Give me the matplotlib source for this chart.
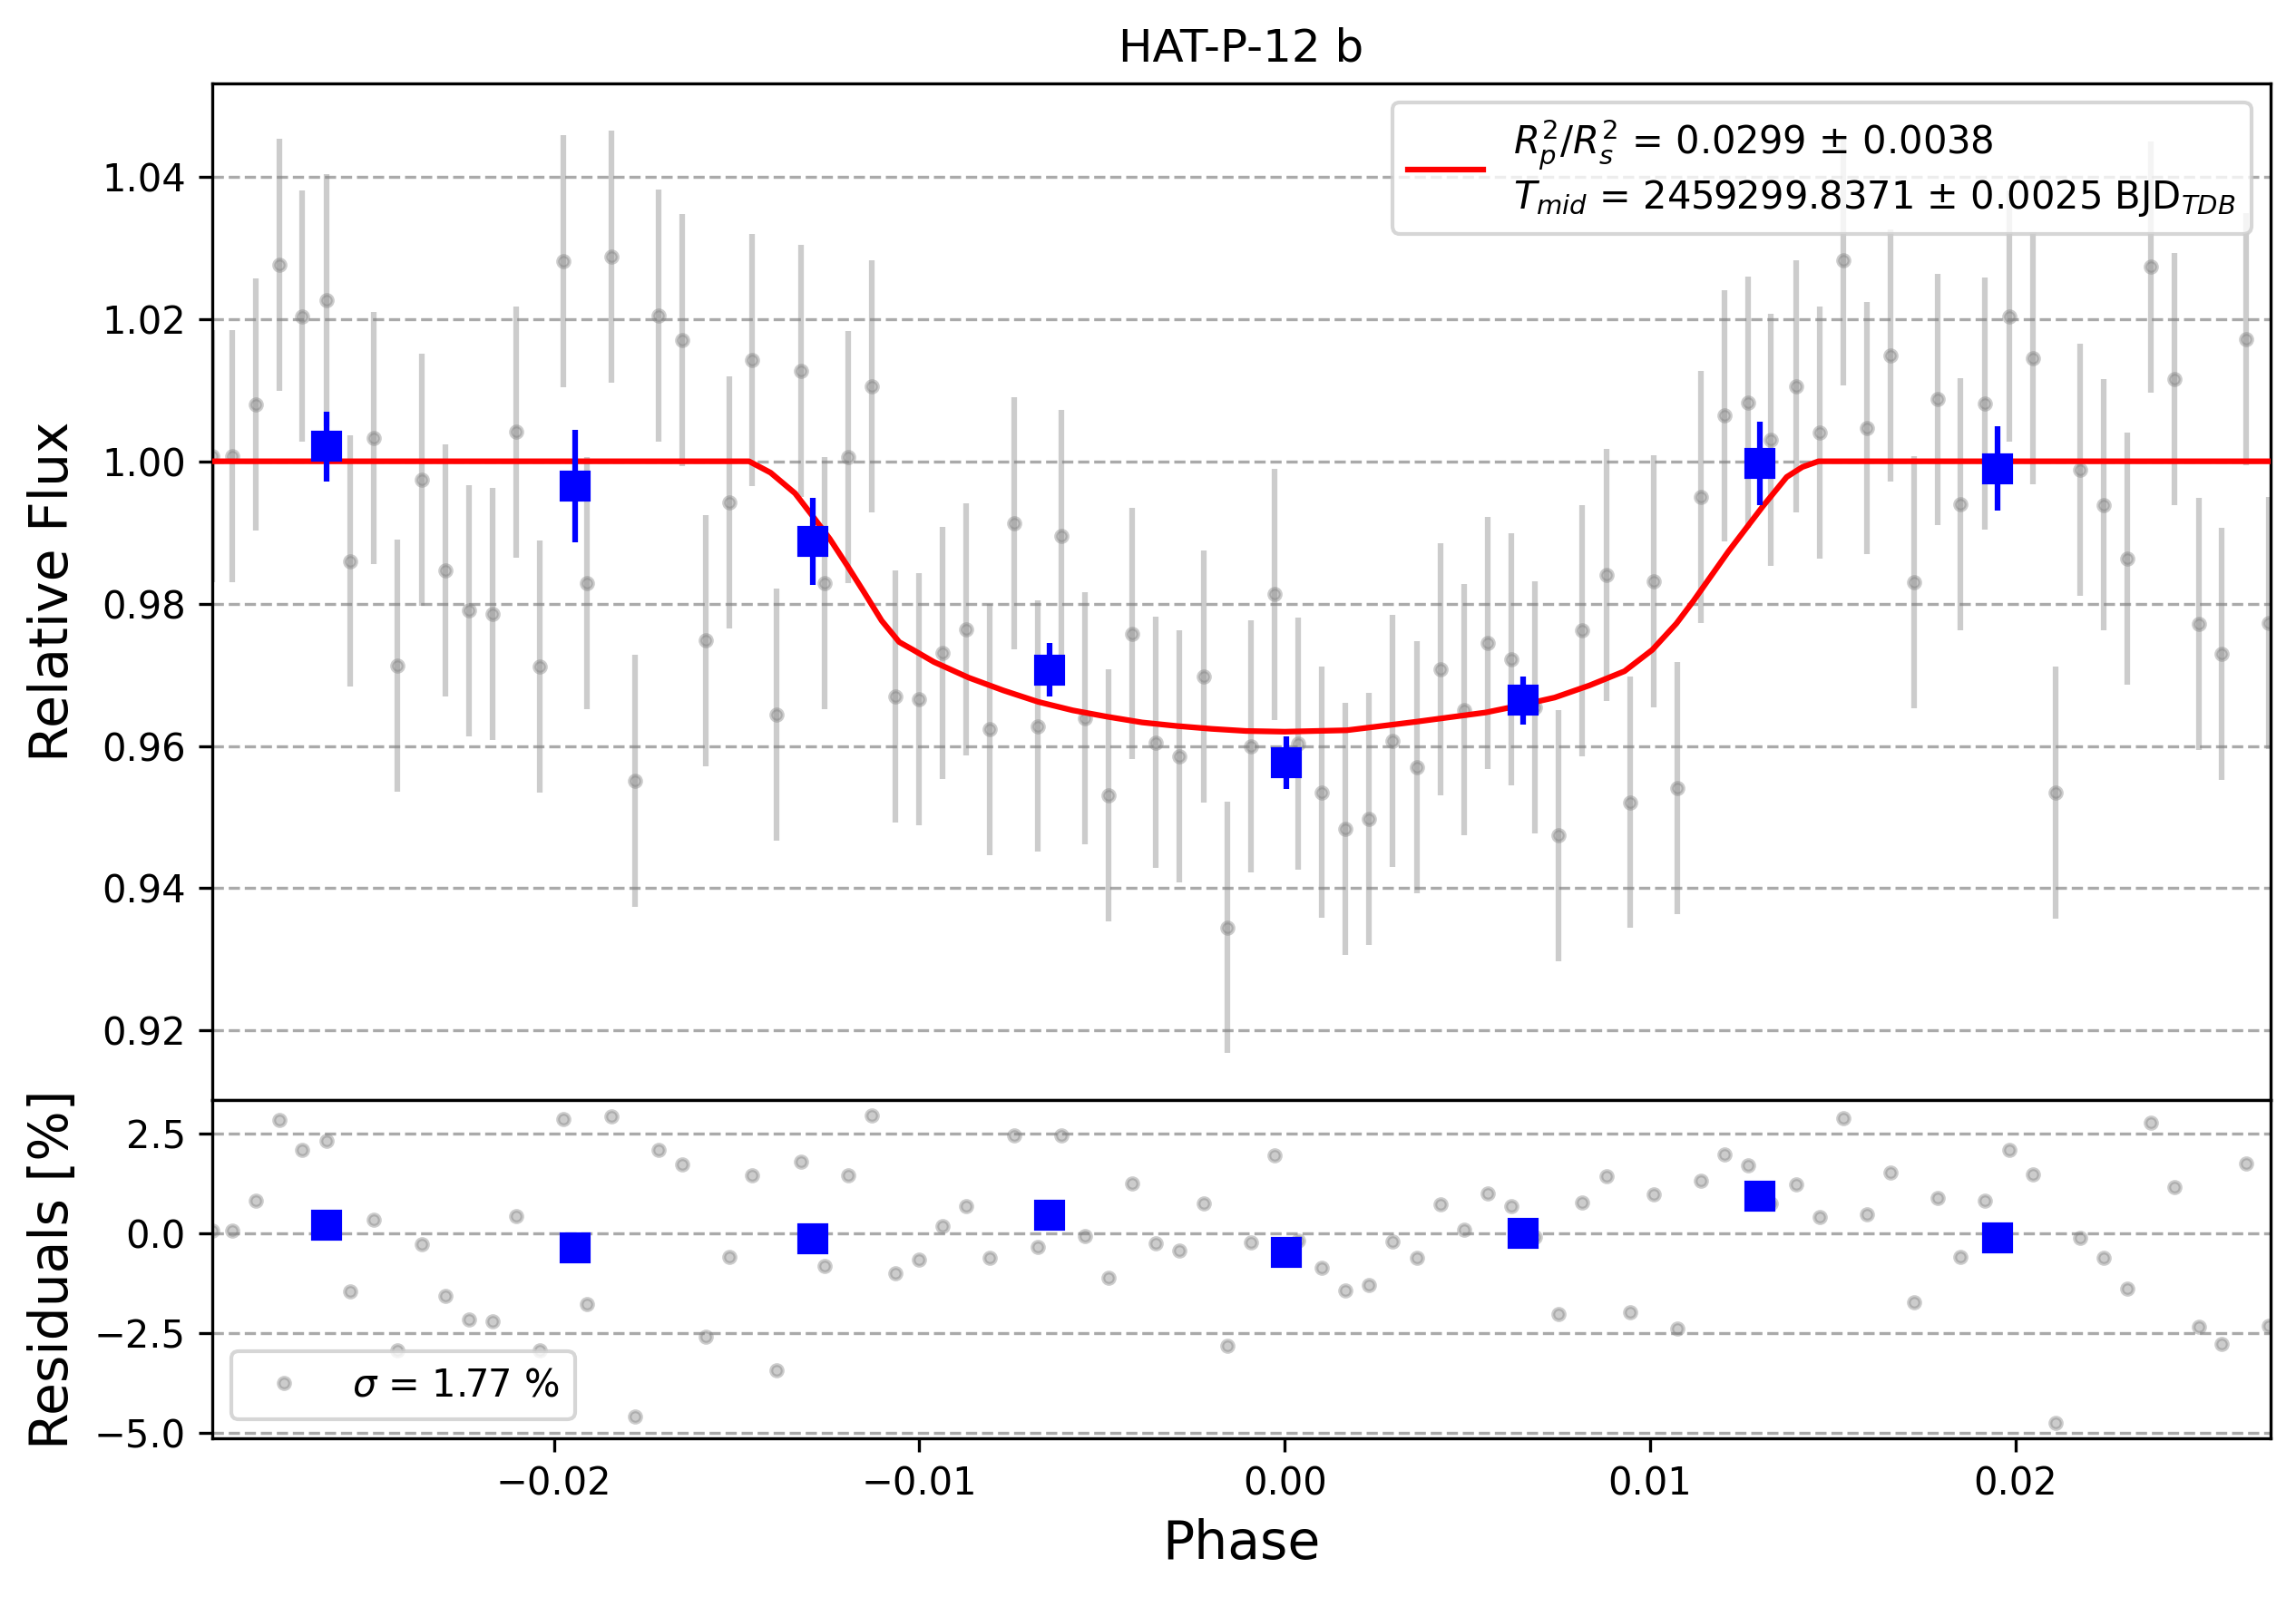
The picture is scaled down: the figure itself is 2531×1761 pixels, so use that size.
import matplotlib
matplotlib.use("Agg")
import matplotlib.pyplot as plt

# ---------------- data ----------------
phase = [-0.02935, -0.02881, -0.02816, -0.02751, -0.02688, -0.02622, -0.02557, -0.02493,
         -0.02428, -0.02362, -0.02297, -0.02233, -0.02168, -0.02103, -0.02039, -0.01974,
         -0.01910, -0.01843, -0.01778, -0.01714, -0.01649, -0.01585, -0.01520, -0.01457,
         -0.01391, -0.01324, -0.01259, -0.01195, -0.01130, -0.01066, -0.01001, -0.00937,
         -0.00872, -0.00807, -0.00741, -0.00676, -0.00612, -0.00547, -0.00483, -0.00417,
         -0.00353, -0.00289, -0.00222, -0.00158, -0.00093, -0.00028, 0.00037, 0.00101,
         0.00166, 0.00230, 0.00295, 0.00361, 0.00426, 0.00491, 0.00555, 0.00620,
         0.00684, 0.00749, 0.00814, 0.00880, 0.00945, 0.01009, 0.01074, 0.01139,
         0.01203, 0.01268, 0.01330, 0.01399, 0.01464, 0.01528, 0.01593, 0.01657,
         0.01722, 0.01787, 0.01850, 0.01915, 0.01982, 0.02047, 0.02111, 0.02176,
         0.02241, 0.02305, 0.02370, 0.02434, 0.02501, 0.02564, 0.02630, 0.02693]

flux = [1.0007, 1.0007, 1.0080, 1.0276, 1.0204, 1.0226, 0.9860, 1.0033,
        0.9713, 0.9974, 0.9847, 0.9790, 0.9785, 1.0041, 0.9712, 1.0281,
        0.9829, 1.0288, 0.9551, 1.0205, 1.0170, 0.9748, 0.9942, 1.0142,
        0.9644, 1.0127, 0.9829, 1.0006, 1.0105, 0.9669, 0.9666, 0.9731,
        0.9764, 0.9623, 0.9913, 0.9628, 0.9895, 0.9639, 0.9531, 0.9758,
        0.9605, 0.9585, 0.9698, 0.9345, 0.9599, 0.9813, 0.9603, 0.9535,
        0.9483, 0.9497, 0.9607, 0.9570, 0.9708, 0.9651, 0.9745, 0.9722,
        0.9654, 0.9474, 0.9762, 0.9840, 0.9521, 0.9831, 0.9541, 0.9950,
        1.0064, 1.0083, 1.0030, 1.0105, 1.0040, 1.0283, 1.0047, 1.0149,
        0.9830, 1.0087, 0.9940, 1.0081, 1.0204, 1.0145, 0.9534, 0.9988,
        0.9939, 0.9863, 1.0273, 1.0116, 0.9771, 0.9729, 1.0172, 0.9773]

flux_err = 0.0177

residuals = [0.08, 0.08, 0.82, 2.83, 2.09, 2.32, -1.45, 0.35,
             -2.92, -0.27, -1.56, -2.16, -2.20, 0.43, -2.92, 2.86,
             -1.77, 2.93, -4.58, 2.09, 1.73, -2.58, -0.58, 1.45,
             -3.43, 1.80, -0.82, 1.45, 2.95, -0.99, -0.65, 0.18,
             0.69, -0.61, 2.46, -0.34, 2.46, -0.07, -1.11, 1.25,
             -0.25, -0.43, 0.75, -2.82, -0.23, 1.95, -0.18, -0.86,
             -1.43, -1.30, -0.20, -0.61, 0.73, 0.09, 1.00, 0.69,
             -0.09, -2.02, 0.78, 1.43, -1.97, 0.98, -2.38, 1.32,
             1.98, 1.70, 0.75, 1.23, 0.41, 2.89, 0.48, 1.52,
             -1.73, 0.89, -0.59, 0.81, 2.09, 1.48, -4.74, -0.12,
             -0.61, -1.39, 2.77, 1.16, -2.34, -2.77, 1.76, -2.32]

bin_phase = [-0.02622, -0.01942, -0.01292, -0.00644, 0.00005, 0.00652, 0.01300, 0.01950]
bin_flux = [1.0021, 0.9965, 0.9887, 0.9707, 0.9577, 0.9664, 0.9997, 0.9990]
bin_err = [0.0049, 0.0079, 0.0061, 0.0038, 0.0037, 0.0034, 0.0059, 0.0059]
bin_resid = [0.20, -0.37, -0.14, 0.45, -0.48, 0.00, 0.93, -0.11]

model_phase = [-0.02935, -0.01466, -0.01407, -0.01340, -0.01292, -0.01245, -0.01198,
               -0.01150, -0.01103, -0.01055, -0.01017, -0.00960, -0.00865, -0.00770,
               -0.00675, -0.00580, -0.00485, -0.00390, -0.00295, -0.00200, -0.00106,
               0.00000, 0.00170, 0.00360, 0.00550, 0.00645, 0.00739, 0.00834,
               0.00930, 0.01006, 0.01072, 0.01119, 0.01214, 0.01309, 0.01374,
               0.01417, 0.01461, 0.02695]
model_flux = [1.0000, 1.0000, 0.9984, 0.9955, 0.9923, 0.9891, 0.9854,
              0.9815, 0.9776, 0.9746, 0.9735, 0.9718, 0.9696, 0.9678,
              0.9662, 0.9650, 0.9641, 0.9633, 0.9628, 0.9624, 0.9621,
              0.9620, 0.9622, 0.9634, 0.9647, 0.9657, 0.9668, 0.9685,
              0.9705, 0.9735, 0.9772, 0.9804, 0.9873, 0.9937, 0.9978,
              0.9992, 1.0000, 1.0000]

title = "HAT-P-12 b"
model_label = (r"$R^2_p/R^2_s$ = 0.0299 ± 0.0038" + "\n"
               r"$T_{mid}$ = 2459299.8371 ± 0.0025 BJD$_{TDB}$")
resid_label = r"$\sigma$ = 1.77 %"
flux_ticks = [0.92, 0.94, 0.96, 0.98, 1.00, 1.02, 1.04]
resid_ticks = [-5.0, -2.5, 0.0, 2.5]
phase_ticks = [-0.02, -0.01, 0.00, 0.01, 0.02]

# ---------------- figure ----------------
W, H, DPI = 2531, 1761, 300
fig, (ax, axr) = plt.subplots(2, 1, sharex=True, figsize=(W / DPI, H / DPI), dpi=DPI,
                              gridspec_kw=dict(height_ratios=[3, 1], hspace=0))
fig.subplots_adjust(left=234 / W, right=2502.5 / W, top=1 - 92 / H, bottom=1 - 1586 / H)

grid_kw = dict(ls="--", color="#aaaaaa", lw=0.8)

ax.errorbar(phase, flux, yerr=flux_err, fmt=".", color="gray", alpha=0.4, zorder=1)
ax.plot(model_phase, model_flux, color="red", lw=1.5, zorder=3, label=model_label)
ax.errorbar(bin_phase, bin_flux, yerr=bin_err, fmt="s", color="blue", ms=7, lw=1.5, zorder=4)
ax.set_ylim(0.9103, 1.0531)
ax.set_yticks(flux_ticks)
ax.set_ylabel("Relative Flux", fontsize=14)
ax.set_title(title, fontsize=12)
ax.grid(True, axis="y", **grid_kw)
ax.set_axisbelow(True)
ax.tick_params(axis="x", which="both", bottom=False, labelbottom=False)
ax.legend(loc="upper right", fontsize=10)

axr.plot(phase, residuals, ".", color="gray", alpha=0.4, zorder=1, label=resid_label)
axr.plot(bin_phase, bin_resid, "s", color="blue", ms=7, zorder=3)
axr.set_ylim(-5.13, 3.35)
axr.set_yticks(resid_ticks)
axr.set_ylabel("Residuals [%]", fontsize=14)
axr.set_xlabel("Phase", fontsize=14)
axr.grid(True, axis="y", **grid_kw)
axr.set_axisbelow(True)
axr.set_xticks(phase_ticks)
axr.set_xlim(-0.02935, 0.02697)
axr.legend(loc="lower left", fontsize=10)

fig.align_ylabels([ax, axr])
fig.savefig("out.png", dpi=DPI)
